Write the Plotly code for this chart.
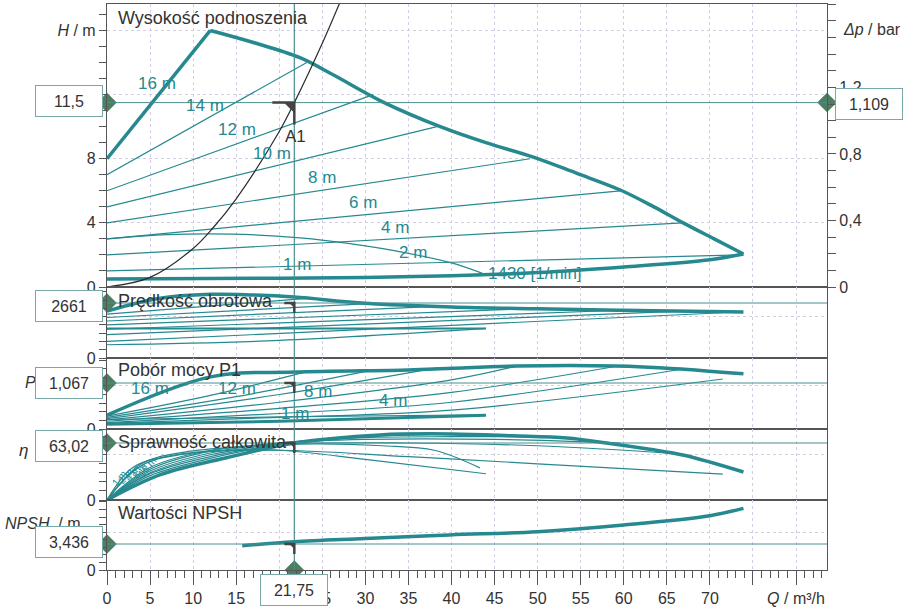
import plotly.graph_objects as go
from plotly.subplots import make_subplots

TEAL = '#25898f'
LINE_T = '#4a8e8e'
DIAM = '#4d7e60'
DARK = '#444444'
TXT = '#333333'
GRID = '#d4cee4'
AX = '#555555'
FONT = 'Liberation Sans, Arial, sans-serif'

# ---------------- operating point ----------------
Q_OP = 21.75
H_OP = 11.5
DP_OP = 1.109
N_OP = 2661
P_OP = 1.067
ETA_OP = 63.02
NPSH_OP = 3.436
M_PER_BAR = H_OP / DP_OP

Q_RANGE = [0, 83.6]
H_TOP = 17.65
N_TOP = 3435
P_TOP = 1.647
ETA_TOP = 78.5
NPSH_TOP = 9.25

# ---------------- head panel ----------------
Q_MAX_RISE = [0, 12]
H_MAX_RISE = [8, 16]
Q_MAX = [12, 17, 22.4, 26.2, 32, 38.7, 44, 49.5, 54.5, 59.6, 63.5, 66.9, 70.5, 73.9]
H_MAX = [16, 15.25, 14.3, 13.25, 11.55, 10.0, 9.0, 8.1, 7.1, 6.05, 5.0, 4.0, 3.0, 2.06]
Q_MIN = [0, 20, 30, 40, 50, 60, 70, 73.9]
H_MIN = [0.5, 0.55, 0.6, 0.7, 0.9, 1.25, 1.7, 2.06]
SET_NAMES = ["14 m", "12 m", "10 m", "8 m", "6 m", "4 m", "2 m"]
H_SET_Q = [[0, 23.2], [0, 30.9], [0, 38.3], [0, 49.1], [0, 59.6], [0, 66.8], [0, 73.5]]
H_SET = [[7, 14], [6, 12], [5, 10], [4, 8], [3, 6], [2, 4], [1, 2.0]]
Q_1430 = [0, 7, 14.6, 22.4, 28.2, 35, 40, 43.6]
H_1430 = [3.0, 3.27, 3.3, 3.06, 2.7, 2.1, 1.5, 0.85]
Q_SYS = [0, 5, 10, 12.3, 15, 20, 21.75, 25, 27]
H_SYS = [0, 0.6, 2.4, 3.68, 5.5, 9.7, 11.5, 15.2, 17.7]

# ---------------- speed panel ----------------
Q_N_MAX = [0, 6, 12, 16, 21.75, 30, 40, 50, 60, 70, 73.9]
N_MAX = [2270, 2880, 3080, 3060, 2950, 2650, 2470, 2380, 2310, 2250, 2220]
N_SET_Q = [[0, 23.2], [0, 30.9], [0, 38.3], [0, 49.1], [0, 59.6], [0, 66.8], [0, 71.5]]
N_SET = [[2120, 2880], [1960, 2640], [1790, 2500], [1600, 2390], [1390, 2310], [1135, 2270], [800, 2190]]
Q_N_1430 = [0, 44]
N_1430 = [1430, 1430]
Q_N_MIN = [0, 20, 44]
N_MIN = [640, 850, 1430]

# ---------------- power panel ----------------
Q_P_MAX = [0, 12, 21.75, 35, 40, 47.6, 59, 66, 73.9]
P_MAX = [0.32, 1.21, 1.32, 1.37, 1.41, 1.46, 1.46, 1.40, 1.28]
P_SET_Q = [[0, 12, 23.2], [0, 15, 30.9], [0, 20, 38.3], [0, 20, 40, 47.6],
           [0, 20, 40, 59], [0, 20, 40, 66.5], [0, 20, 40, 71.5]]
P_SET = [[0.30, 0.78, 1.33], [0.27, 0.75, 1.37], [0.24, 0.80, 1.42], [0.21, 0.62, 1.14, 1.46],
         [0.18, 0.48, 0.85, 1.45], [0.15, 0.36, 0.62, 1.38], [0.13, 0.27, 0.44, 1.16]]
Q_P_1430 = [0, 20, 44]
P_1430 = [0.22, 0.28, 0.33]
Q_P_MIN = [0, 20, 44]
P_MIN = [0.11, 0.18, 0.32]

# ---------------- efficiency panel ----------------
Q_E_MAX = [0, 6.2, 14, 21.75, 31.7, 40, 47, 53.4, 58, 63, 67, 73.9]
E_MAX = [0, 28, 47, 63, 72, 73, 71, 68.5, 63, 56, 49.5, 31]
E_SET_Q = [[0, 5, 12, 18, 23.2], [0, 5, 12, 20, 30.9], [0, 5, 12, 20, 30, 38.3],
           [0, 5, 12, 20, 30, 40, 49.1], [0, 5, 12, 20, 30, 45, 59.6],
           [0, 5, 12, 20, 35, 50, 66.8], [0, 4, 10, 20, 35, 50, 71.5]]
E_SET = [[0, 27, 46, 58, 66], [0, 29, 48, 61, 71.5], [0, 30, 50, 62, 70, 72.5],
         [0, 32, 52, 63, 69, 70, 70], [0, 34, 54, 63, 67, 67, 63],
         [0, 36, 55, 62, 63, 60, 51], [0, 38, 52, 55, 48, 40, 28.6]]
Q_E_1430 = [0, 4, 9, 16, 24, 32, 38, 43.3]
E_1430 = [0, 40, 53, 59, 62, 60, 55, 35.5]
Q_E_MIN = [0, 3, 8, 14, 20, 30, 44]
E_MIN = [0, 36, 50, 55, 55, 45, 29]

# ---------------- NPSH panel ----------------
Q_NPSH = [15.7, 21.75, 30, 39.8, 50, 60, 70, 73.9]
NPSH = [3.21, 3.74, 4.15, 4.63, 5.06, 5.95, 7.18, 8.15]

# ---------------- labels ----------------
X_TICKS = list(range(0, 85, 5))
X_TICKTEXT = [str(v) for v in X_TICKS[:-2]] + ["", "<i>Q</i> / m³/h"]

fig = make_subplots(rows=5, cols=1, shared_xaxes=True, vertical_spacing=0,
                    row_heights=[283, 71, 71, 71, 70],
                    specs=[[{"secondary_y": True}], [{}], [{}], [{}], [{}]])


def add_line(row, xs, ys, width=1.2, color=TEAL, shape='linear'):
    fig.add_trace(go.Scatter(x=xs, y=ys, mode='lines', hoverinfo='skip',
                             line=dict(color=color, width=width, shape=shape)),
                  row=row, col=1)


# head panel
for qs, hs in zip(H_SET_Q, H_SET):
    add_line(1, qs, hs)
add_line(1, Q_1430, H_1430, shape='spline')
add_line(1, Q_MIN, H_MIN, width=3.5, shape='spline')
add_line(1, Q_MAX_RISE, H_MAX_RISE, width=3.5)
add_line(1, Q_MAX, H_MAX, width=3.5, shape='spline')
add_line(1, Q_SYS, H_SYS, width=1.2, color='#2a2a2a', shape='spline')

# speed
for qs, ns in zip(N_SET_Q, N_SET):
    add_line(2, qs, ns)
add_line(2, Q_N_1430, N_1430, width=2)
add_line(2, Q_N_MIN, N_MIN, shape='spline')
add_line(2, Q_N_MAX, N_MAX, width=3.5, shape='spline')

# power
for qs, ps in zip(P_SET_Q, P_SET):
    add_line(3, qs, ps, shape='spline')
add_line(3, Q_P_1430, P_1430, shape='spline')
add_line(3, Q_P_MIN, P_MIN, width=3, shape='spline')
add_line(3, Q_P_MAX, P_MAX, width=3.5, shape='spline')

# efficiency
for qs, es in zip(E_SET_Q, E_SET):
    add_line(4, qs, es, shape='spline')
add_line(4, Q_E_1430, E_1430, shape='spline')
add_line(4, Q_E_MIN, E_MIN, shape='spline')
add_line(4, Q_E_MAX, E_MAX, width=3.5, shape='spline')

# npsh
add_line(5, Q_NPSH, NPSH, width=3.5, shape='spline')

# ---------- operating-point lines ----------
for row, val in [(1, H_OP), (2, N_OP), (3, P_OP), (4, ETA_OP), (5, NPSH_OP)]:
    fig.add_hline(y=val, line=dict(color=LINE_T, width=1), row=row, col=1)
fig.add_shape(type='line', xref='x', yref='paper', x0=Q_OP, x1=Q_OP, y0=0, y1=1,
              line=dict(color=LINE_T, width=1.2))

# corner marks
for row, val, size in [(1, H_OP, 22), (2, N_OP, 10), (3, P_OP, 10), (4, ETA_OP, 10), (5, NPSH_OP, 10)]:
    fig.add_shape(type='path', xsizemode='pixel', ysizemode='pixel', xanchor=Q_OP, yanchor=val,
                  path=f'M {-size},0 L 0,0 L 0,{-size}', line=dict(color=DARK, width=2.5),
                  row=row, col=1)
    t = size * 0.45
    fig.add_shape(type='path', xsizemode='pixel', ysizemode='pixel', xanchor=Q_OP, yanchor=val,
                  path=f'M {-t},0 L 0,0 L 0,{-t} Z', line=dict(color=DARK, width=1),
                  fillcolor=DARK, row=row, col=1)

# diamonds
def diamond(row, x, y, secondary=False):
    kw = dict(row=row, col=1)
    if row == 1:
        kw['secondary_y'] = secondary
    fig.add_trace(go.Scatter(x=[x], y=[y], mode='markers', cliponaxis=False, hoverinfo='skip',
                             marker=dict(symbol='diamond', size=15, color=DIAM)), **kw)

diamond(1, 0, H_OP)
diamond(1, Q_RANGE[1], DP_OP, secondary=True)
diamond(2, 0, N_OP)
diamond(3, 0, P_OP)
diamond(4, 0, ETA_OP)
diamond(5, 0, NPSH_OP)
diamond(5, Q_OP, 0)

# ---------- axes ----------
for r in range(1, 6):
    fig.update_xaxes(row=r, col=1, range=Q_RANGE, domain=[0, 1], tickmode='array', tickvals=X_TICKS,
                     showgrid=True, gridcolor=GRID, griddash='dot', gridwidth=1,
                     showline=True, linecolor=AX, linewidth=1.2, mirror=True, zeroline=False,
                     showticklabels=False, ticks='', automargin=False)
fig.update_xaxes(row=5, col=1, showticklabels=True, ticktext=X_TICKTEXT, ticks='outside',
                 ticklen=14, tickcolor=AX, tickwidth=1.2,
                 tickfont=dict(size=16, color=TXT, family=FONT),
                 minor=dict(tickmode='linear', tick0=0, dtick=1, ticks='outside', ticklen=7,
                            tickcolor=AX, tickwidth=1.2, showgrid=False))

fig.update_yaxes(row=1, col=1, secondary_y=False, range=[0, H_TOP], tickmode='array',
                 tickvals=[0, 4, 8, 12, 16], ticktext=['0', '4', '8', '12', '<i>H</i> / m'],
                 ticks='outside', ticklen=7, tickcolor=AX, tickwidth=1.2,
                 tickfont=dict(size=16, color=TXT, family=FONT),
                 minor=dict(tickmode='linear', tick0=0, dtick=1, ticks='outside', ticklen=7,
                            tickcolor=AX, tickwidth=1.2, showgrid=False),
                 showgrid=True, gridcolor=GRID, griddash='dot', automargin=False,
                 showline=True, linecolor=AX, linewidth=1.2, mirror=False, zeroline=False)
fig.update_yaxes(row=1, col=1, secondary_y=True, range=[0, H_TOP / M_PER_BAR], tickmode='array',
                 tickvals=[0, 0.4, 0.8, 1.2], ticks='outside', ticklen=8, tickcolor=AX, tickwidth=1.2,
                 tickfont=dict(size=16, color=TXT, family=FONT),
                 minor=dict(tickmode='linear', tick0=0, dtick=0.1, ticks='outside', ticklen=8,
                            tickcolor=AX, tickwidth=1.2, showgrid=False),
                 showgrid=False, showline=True, linecolor=AX, linewidth=1.2, zeroline=False,
                 automargin=False)

for row, top, grid, step in [(2, N_TOP, 2000, 400), (3, P_TOP, 1.0, 0.2),
                             (4, ETA_TOP, 50, 10), (5, NPSH_TOP, 5, 1)]:
    fig.update_yaxes(row=row, col=1, range=[0, top], tickmode='array', tickvals=[0, grid],
                     ticktext=['0', ''], ticks='outside', ticklen=7, tickcolor=AX, tickwidth=1.2,
                     tickfont=dict(size=16, color=TXT, family=FONT),
                     minor=dict(tickmode='linear', tick0=0, dtick=step, ticks='outside', ticklen=7,
                                tickcolor=AX, tickwidth=1.2, showgrid=False),
                     showgrid=True, gridcolor=GRID, griddash='dot', automargin=False,
                     showline=True, linecolor=AX, linewidth=1.2, mirror=True, zeroline=False)

# ---------- text ----------
def lab(row, x, y, text, size=17, color=TEAL, angle=0):
    fig.add_annotation(x=x, y=y, text=text, showarrow=False, textangle=angle,
                       xanchor='center', yanchor='middle',
                       font=dict(size=size, color=color, family=FONT), row=row, col=1)

HEAD_LABELS = [("16 m", 5.8, 12.7), ("14 m", 11.4, 11.3), ("12 m", 15.1, 9.8), ("10 m", 19.2, 8.3),
               ("8 m", 25.0, 6.8), ("6 m", 29.7, 5.3), ("4 m", 33.4, 3.74), ("2 m", 35.5, 2.18),
               ("1 m", 22.1, 1.43), ("1430 [1/min]", 49.7, 0.87)]
for t, x, y in HEAD_LABELS:
    lab(1, x, y, t)
lab(1, 21.9, 9.36, "A1", size=17, color=TXT)

POWER_LABELS = [("16 m", 5.0, 0.93), ("12 m", 15.1, 0.93), ("8 m", 24.5, 0.86),
                ("4 m", 33.2, 0.67), ("1 m", 21.8, 0.37)]
for t, x, y in POWER_LABELS:
    lab(3, x, y, t)

EFF_LABELS = [("1 m", 1.4, 24), ("2 m", 2.2, 27), ("4 m", 3.0, 30), ("8 m", 3.8, 33), ("16 m", 4.6, 36)]
for t, x, y in EFF_LABELS:
    lab(4, x, y, t, size=10, angle=-50)


def ptext(px, py, text, size=18, anchor='left', italic=False):
    fig.add_annotation(xref='paper', yref='paper', x=(px - 107) / 720, y=(570 - py) / 566,
                       text=f'<i>{text}</i>' if italic else text, showarrow=False,
                       xanchor=anchor, yanchor='middle',
                       font=dict(size=size, color=TXT, family=FONT))

ptext(116, 18, "Wysokość podnoszenia")
ptext(116, 301, "Prędkość obrotowa")
ptext(116, 370, "Pobór mocy P1")
ptext(116, 442, "Sprawność całkowita")
ptext(116, 513, "Wartości NPSH")
ptext(841, 30, "<i>Δp</i> / bar", size=16)
ptext(23, 450, "η", size=17, anchor='center', italic=True)
ptext(30, 382, "P", size=16, anchor='center', italic=True)
ptext(3, 523, "<i>NPSH</i>  / m", size=16)


def box(px, py, text, xref='paper', xval=None):
    fig.add_annotation(xref=xref, yref='paper',
                       x=xval if xval is not None else (px - 107) / 720, y=(570 - py) / 566,
                       xanchor='center', yanchor='middle',
                       text=text, showarrow=False, width=62, height=26, borderpad=2,
                       bordercolor='#78a8a8', borderwidth=1, bgcolor='white',
                       font=dict(size=16, color=TXT, family=FONT))

fmt = lambda v, d: f"{v:.{d}f}".replace('.', ',')
box(69, 101, fmt(H_OP, 1))
box(869, 104, fmt(DP_OP, 3))
box(69, 306, str(N_OP))
box(69, 383, fmt(P_OP, 3))
box(69, 446, fmt(ETA_OP, 2))
box(69, 542, fmt(NPSH_OP, 3))
box(0, 590, fmt(Q_OP, 2), xref='x5', xval=Q_OP)

fig.update_layout(width=911, height=613, autosize=False,
                  margin=dict(l=107, r=84, t=4, b=43, autoexpand=False),
                  plot_bgcolor='white', paper_bgcolor='white', showlegend=False,
                  separators=', ', font=dict(family=FONT, color=TXT, size=16))

fig.write_html("out.html", config={'responsive': False, 'displayModeBar': False},
               post_script="document.body.style.margin='0';document.body.style.overflow='hidden';")
